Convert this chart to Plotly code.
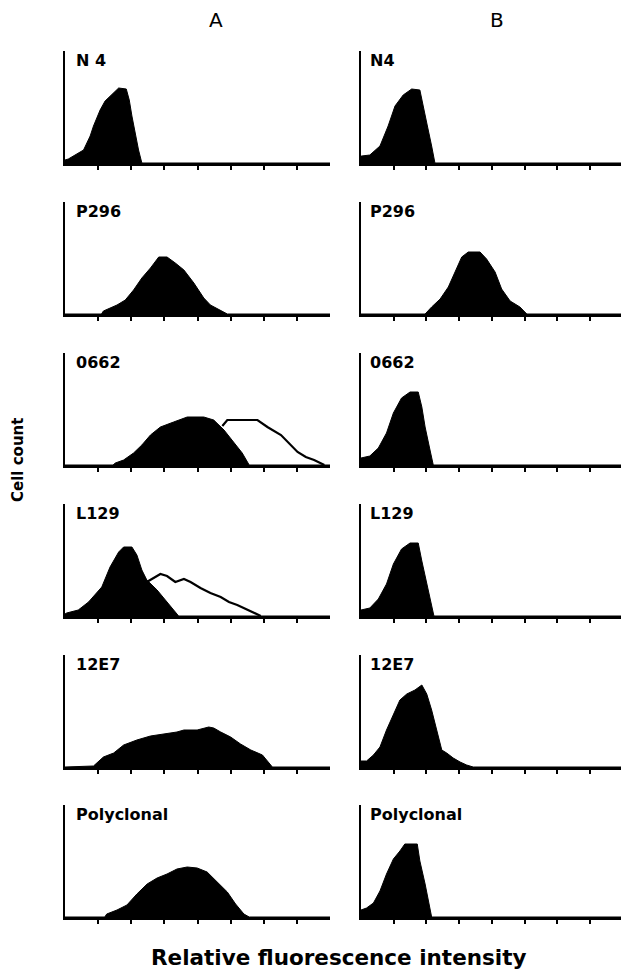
import plotly.graph_objects as go
from plotly.subplots import make_subplots

# ---------------- data (x: relative fluorescence, tick units; y: cell count, arbitrary) ----------------
row_labels_a = ["N 4", "P296", "0662", "L129", "12E7", "Polyclonal"]
row_labels_b = ["N4", "P296", "0662", "L129", "12E7", "Polyclonal"]
column_titles = ["A", "B"]
tick_positions = [1, 2, 3, 4, 5, 6, 7]

n4_a_x = [0.0, 0.10, 0.56, 0.76, 0.86, 1.06, 1.21, 1.36, 1.62, 1.85, 1.94, 2.02, 2.12, 2.22, 2.32, 8.0]
n4_a_y = [3, 4, 13, 27, 37, 53, 62, 67, 75, 74, 63, 47, 30, 13, 0, 0]

n4_b_x = [0.0, 0.02, 0.27, 0.58, 0.83, 1.04, 1.29, 1.55, 1.80, 1.91, 2.03, 2.16, 2.26, 8.0]
n4_b_y = [7, 7, 8, 17, 37, 57, 68, 74, 73, 57, 37, 17, 0, 0]

p296_a_x = [0.0, 1.10, 1.16, 1.57, 1.82, 2.07, 2.32, 2.58, 2.83, 3.08, 3.33, 3.59, 3.89, 4.19, 4.39, 4.70, 4.90, 8.0]
p296_a_y = [0, 0, 3, 9, 14, 24, 36, 46, 57, 57, 51, 44, 31, 16, 9, 4, 0, 0]

p296_b_x = [0.0, 1.96, 2.16, 2.42, 2.67, 2.87, 3.08, 3.28, 3.64, 3.84, 4.10, 4.30, 4.56, 4.86, 5.07, 8.0]
p296_b_y = [0, 0, 7, 15, 27, 42, 57, 62, 62, 55, 42, 25, 13, 7, 0, 0]

o662_a_x = [0.0, 1.45, 1.52, 1.77, 2.07, 2.32, 2.58, 2.88, 3.28, 3.69, 4.19, 4.49, 4.80, 5.10, 5.35, 5.56, 8.0]
o662_a_y = [0, 0, 2, 5, 12, 20, 30, 38, 43, 48, 48, 45, 35, 23, 12, 0, 0]
o662_a_open_x = [4.75, 4.90, 5.81, 6.11, 6.52, 6.77, 7.02, 7.27, 7.52, 7.83]
o662_a_open_y = [39, 45, 45, 38, 30, 22, 13, 8, 5, 0]

o662_b_x = [0.0, 0.27, 0.53, 0.78, 0.99, 1.24, 1.50, 1.75, 1.86, 1.96, 2.09, 2.21, 8.0]
o662_b_y = [7, 9, 17, 32, 52, 67, 73, 73, 58, 38, 18, 0, 0]

l129_a_x = [0.0, 0.05, 0.40, 0.71, 1.11, 1.36, 1.62, 1.77, 2.02, 2.17, 2.32, 2.47, 2.78, 3.08, 3.43, 8.0]
l129_a_y = [2, 3, 6, 14, 29, 49, 64, 69, 69, 61, 46, 36, 26, 14, 0, 0]
l129_a_open_x = [2.47, 2.68, 2.88, 3.08, 3.33, 3.59, 3.79, 4.09, 4.39, 4.70, 4.95, 5.20, 5.51, 5.91]
l129_a_open_y = [34, 38, 42, 40, 34, 37, 34, 28, 23, 19, 14, 11, 6, 0]

l129_b_x = [0.0, 0.27, 0.53, 0.78, 0.99, 1.24, 1.50, 1.75, 1.86, 1.99, 2.11, 2.23, 8.0]
l129_b_y = [6, 8, 17, 32, 52, 67, 73, 73, 55, 35, 15, 0, 0]

e127_a_x = [0.0, 0.86, 1.16, 1.47, 1.77, 2.17, 2.58, 2.98, 3.38, 3.59, 3.99, 4.34, 4.49, 4.70, 5.00, 5.30, 5.61, 5.96, 6.11, 6.26, 8.0]
e127_a_y = [0, 1, 10, 14, 22, 27, 31, 33, 35, 37, 37, 40, 39, 35, 30, 23, 17, 12, 6, 0, 0]

e127_b_x = [0.0, 0.17, 0.38, 0.58, 0.78, 0.99, 1.19, 1.40, 1.65, 1.86, 2.01, 2.16, 2.31, 2.47, 2.62, 2.82, 3.03, 3.23, 3.43, 8.0]
e127_b_y = [6, 6, 12, 20, 37, 53, 67, 73, 77, 82, 73, 57, 37, 17, 14, 9, 5, 2, 0, 0]

poly_a_x = [0.0, 1.20, 1.26, 1.57, 1.87, 2.17, 2.48, 2.78, 3.08, 3.38, 3.69, 3.99, 4.29, 4.60, 4.90, 5.15, 5.40, 5.56, 8.0]
poly_a_y = [0, 0, 3, 7, 12, 23, 33, 39, 43, 48, 50, 49, 45, 35, 25, 13, 3, 0, 0]

poly_b_x = [0.0, 0.17, 0.38, 0.58, 0.78, 0.99, 1.19, 1.34, 1.72, 1.80, 1.96, 2.06, 2.16, 8.0]
poly_b_y = [7, 9, 14, 26, 43, 58, 66, 73, 73, 56, 33, 16, 0, 0]

filled_a = [(n4_a_x, n4_a_y), (p296_a_x, p296_a_y), (o662_a_x, o662_a_y),
            (l129_a_x, l129_a_y), (e127_a_x, e127_a_y), (poly_a_x, poly_a_y)]
filled_b = [(n4_b_x, n4_b_y), (p296_b_x, p296_b_y), (o662_b_x, o662_b_y),
            (l129_b_x, l129_b_y), (e127_b_x, e127_b_y), (poly_b_x, poly_b_y)]
open_a = {3: (o662_a_open_x, o662_a_open_y), 4: (l129_a_open_x, l129_a_open_y)}

# ---------------- layout geometry ----------------
W, H = 621, 971
baselines = [163, 314, 465, 616, 767, 917]
panel_h = 112
x_dom = [(65 / W, 330 / W), (361 / W, 1.0)]
x_rng = [[0, 8.0], [0, 7.95]]

fig = make_subplots(rows=6, cols=2)

for r in range(6):
    for c in range(2):
        data = filled_a[r] if c == 0 else filled_b[r]
        if c == 0 and (r + 1) in open_a:
            ox, oy = open_a[r + 1]
            fig.add_trace(go.Scatter(x=ox, y=oy, mode="lines",
                                     line=dict(color="black", width=2.2),
                                     hoverinfo="skip", showlegend=False),
                          row=r + 1, col=c + 1)
        fig.add_trace(go.Scatter(x=data[0], y=data[1], mode="lines", fill="tozeroy",
                                 fillcolor="black", line=dict(color="black", width=1),
                                 hoverinfo="skip", showlegend=False),
                      row=r + 1, col=c + 1)
        b = baselines[r]
        y0 = (H - b) / H
        y1 = (H - b + panel_h) / H
        fig.update_xaxes(domain=list(x_dom[c]), range=x_rng[c], showline=True,
                         linecolor="black", linewidth=2.5, showgrid=False, zeroline=False,
                         tickmode="array", tickvals=tick_positions, ticks="outside",
                         ticklen=4, tickwidth=2, tickcolor="black", showticklabels=False,
                         row=r + 1, col=c + 1)
        fig.update_yaxes(domain=[y0, y1], range=[0, panel_h], showline=True,
                         linecolor="black", linewidth=2.5, showgrid=False, zeroline=False,
                         ticks="", showticklabels=False, row=r + 1, col=c + 1)
        label = row_labels_a[r] if c == 0 else row_labels_b[r]
        lx = (74 if c == 0 else 368) / W
        fig.add_annotation(x=lx, y=y1 + 2 / H, xref="paper", yref="paper",
                           xanchor="left", yanchor="top", showarrow=False,
                           text=label, font=dict(family="DejaVu Sans", size=16,
                                                 color="black", weight="bold"))

# column titles
for c, tx in enumerate([216, 497]):
    fig.add_annotation(x=tx / W, y=1 - 20 / H, xref="paper", yref="paper",
                       xanchor="center", yanchor="middle", showarrow=False,
                       text=column_titles[c], font=dict(family="DejaVu Sans", size=20, color="black"))

# axis titles
fig.add_annotation(x=18 / W, y=1 - 460 / H, xref="paper", yref="paper",
                   xanchor="center", yanchor="middle", showarrow=False, textangle=-90,
                   text="Cell count", font=dict(family="DejaVu Sans", size=15,
                                                color="black", weight="bold"))
fig.add_annotation(x=338 / W, y=1 - 957 / H, xref="paper", yref="paper",
                   xanchor="center", yanchor="middle", showarrow=False,
                   text="Relative fluorescence intensity",
                   font=dict(family="DejaVu Sans", size=21.5, color="black", weight="bold"))

fig.update_layout(width=W, height=H, margin=dict(l=0, r=0, t=0, b=0),
                  plot_bgcolor="white", paper_bgcolor="white", showlegend=False)

fig.write_html("out.html", config={"displayModeBar": False, "staticPlot": True},
               post_script="document.body.style.margin='0';document.body.style.overflow='hidden';")
